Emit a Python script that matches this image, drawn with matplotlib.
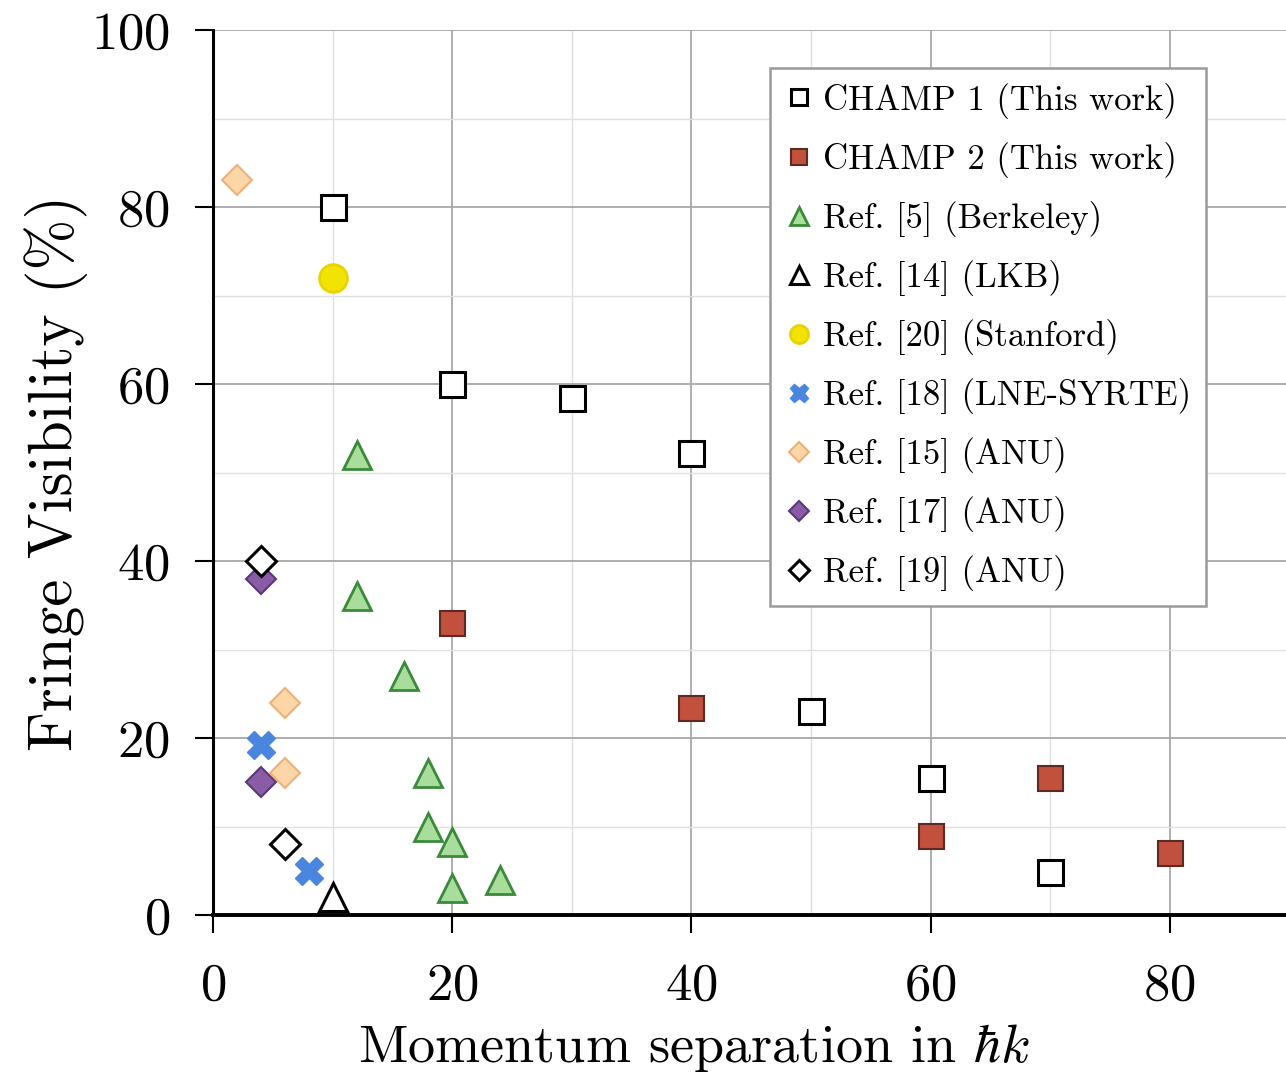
import matplotlib
matplotlib.use("Agg")
import matplotlib.pyplot as plt
from matplotlib.ticker import MultipleLocator

plt.rcParams['font.family'] = 'cmr10'
plt.rcParams['mathtext.fontset'] = 'cm'
plt.rcParams['axes.formatter.use_mathtext'] = True

# data
champ1_x = [10, 20, 30, 40, 50, 60, 70]
champ1_y = [80, 60, 58.4, 52.2, 23.1, 15.5, 4.9]

champ2_x = [20, 40, 60, 70, 80]
champ2_y = [33, 23.4, 8.9, 15.5, 7.0]

berkeley_x = [12, 12, 16, 18, 18, 20, 20, 24]
berkeley_y = [52, 36, 27, 16, 10, 8.2, 3, 4]

lkb_x = [10]
lkb_y = [2]

stanford_x = [10]
stanford_y = [72]

syrte_x = [4, 8]
syrte_y = [19.2, 5]

anu15_x = [2, 6, 6]
anu15_y = [83, 24, 16]

anu17_x = [4, 4]
anu17_y = [38, 15]

anu19_x = [4, 6]
anu19_y = [40, 8]

fig = plt.figure(figsize=(12.86, 10.72), dpi=100)
ax = fig.add_axes([213 / 1286, 157 / 1072, 1076.4 / 1286, 885 / 1072])

kw = dict(linestyle='none', clip_on=False, zorder=3)
ax.plot(champ1_x, champ1_y, 's', ms=18, mfc='white', mec='black', mew=2.2,
        label='CHAMP 1 (This work)', **kw)
ax.plot(champ2_x, champ2_y, 's', ms=18, mfc='#c1503d', mec='#5c2a20', mew=1.5,
        label='CHAMP 2 (This work)', **kw)
ax.plot(berkeley_x, berkeley_y, '^', ms=20, mfc='#a8dd9c', mec='#3a8a3a', mew=2,
        label='Ref. [5] (Berkeley)', **kw)
ax.plot(lkb_x, lkb_y, '^', ms=20, mfc='white', mec='black', mew=2.2,
        label='Ref. [14] (LKB)', **kw)
ax.plot(stanford_x, stanford_y, 'o', ms=20, mfc='#f3e300', mec='#e6d400', mew=2,
        label='Ref. [20] (Stanford)', **kw)
ax.plot(syrte_x, syrte_y, 'X', ms=20, mfc='#4a86e0', mec='#4a86e0', mew=1,
        label='Ref. [18] (LNE-SYRTE)', **kw)
ax.plot(anu17_x, anu17_y, 'D', ms=15, mfc='#8a5ca6', mec='#5a3878', mew=1.5,
        label='Ref. [17] (ANU)', **kw)
ax.plot(anu15_x, anu15_y, 'D', ms=15, mfc='#fcd6a6', mec='#eeb078', mew=1.5,
        label='Ref. [15] (ANU)', **kw)
ax.plot(anu19_x, anu19_y, 'D', ms=15, mfc='white', mec='black', mew=2.2,
        label='Ref. [19] (ANU)', **kw)

ax.set_xlim(0, 90)
ax.set_ylim(0, 100)
ax.xaxis.set_major_locator(MultipleLocator(20))
ax.xaxis.set_minor_locator(MultipleLocator(10))
ax.yaxis.set_major_locator(MultipleLocator(20))
ax.yaxis.set_minor_locator(MultipleLocator(10))
ax.grid(which='major', color='#a8a8a8', linewidth=1.3, zorder=0)
ax.grid(which='minor', color='#e0e0e0', linewidth=1.0, zorder=0)
ax.set_axisbelow(True)

for s in ['top', 'right']:
    ax.spines[s].set_visible(False)
ax.spines['left'].set_linewidth(2.2)
ax.spines['bottom'].set_linewidth(2.8)
ax.tick_params(which='major', direction='out', length=13, width=1.5,
               labelsize=38, pad=18)
ax.tick_params(axis='x', pad=21)
ax.tick_params(which='minor', length=0)

ax.set_xlabel(r'Momentum separation in $\hbar k$', fontsize=39, labelpad=9)
ax.xaxis.label.set_x(0.447)
ax.set_ylabel('Fringe Visibility (%)', fontsize=44, labelpad=2)

# legend order as in the picture
h, l = ax.get_legend_handles_labels()
order = [0, 1, 2, 3, 4, 5, 7, 6, 8]
leg = ax.legend([h[i] for i in order], [l[i] for i in order],
                loc='upper left', bbox_to_anchor=(0.5175, 0.957),
                borderaxespad=0, fontsize=25, markerscale=0.65,
                handlelength=0.8, handletextpad=0.3, labelspacing=0.665,
                borderpad=0.42, fancybox=False, framealpha=1,
                edgecolor='#9a9a9a')
leg.get_frame().set_linewidth(1.8)
leg.set_zorder(5)

fig.savefig('out.png', dpi=100)
